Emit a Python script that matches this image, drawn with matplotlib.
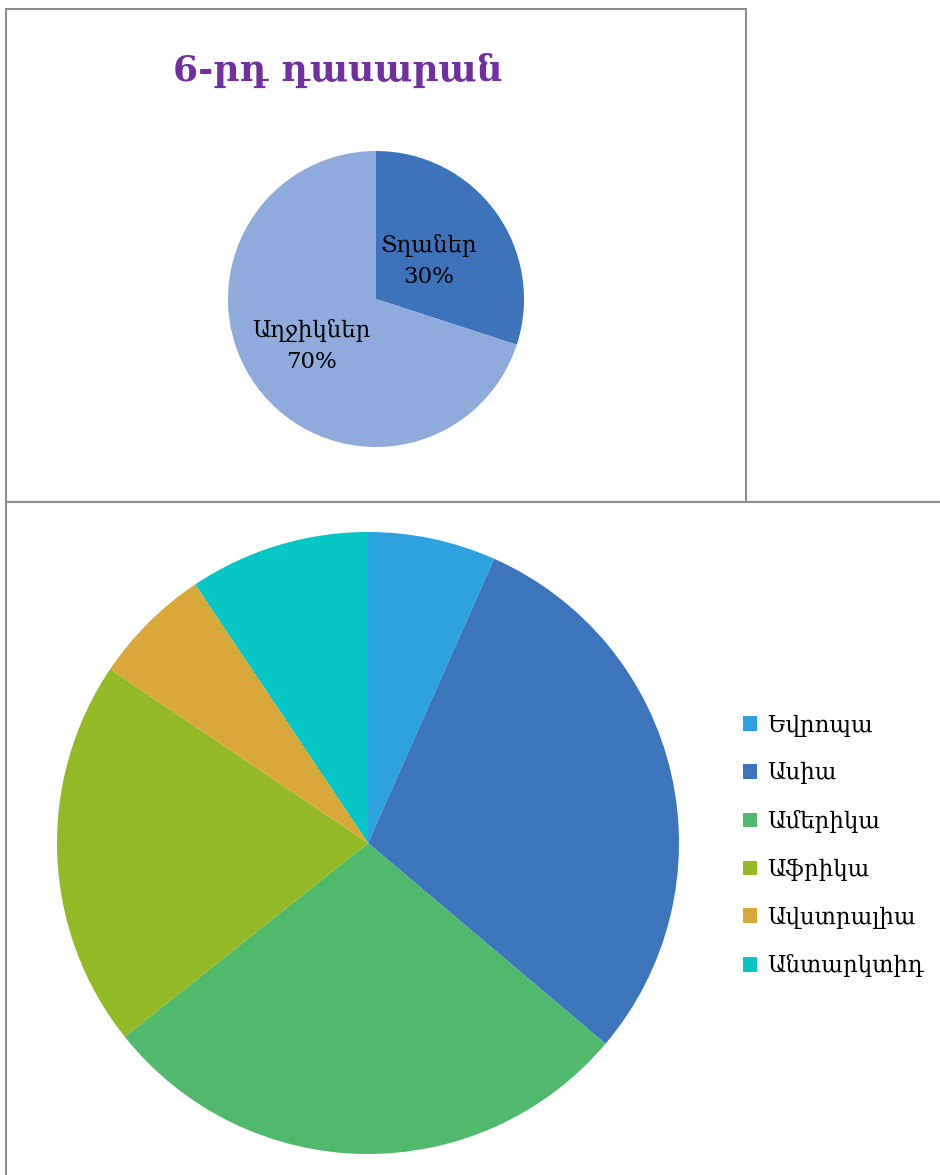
import matplotlib
matplotlib.use('Agg')
import matplotlib.pyplot as plt
from matplotlib.lines import Line2D
import numpy as np

plt.rcParams['font.family'] = ['DejaVu Serif', 'DejaVu Sans']

# Top chart data
title_top = '6-րդ դասարան'
class_labels = ['Տղաներ', 'Աղջիկներ']
class_values = [30, 70]
class_colors = ['#3C73BA', '#8FABDC']

# Bottom chart data
continents = ['Եվրոպա', 'Ասիա', 'Ամերիկա', 'Աֆրիկա', 'Ավստրալիա', 'Անտարկտիդ']
areas = [10.0, 44.4, 42.3, 30.3, 9.3, 14.1]
cont_colors = ['#2CA3DF', '#3C75BC', '#51B96B', '#93B925', '#D9A839', '#06C6C6']

W, H = 940, 1175
fig = plt.figure(figsize=(W / 100, H / 100), dpi=100)


def px_axes(cx, cy, r):
    # square axes (in pixels) centred on cx, cy
    return fig.add_axes([(cx - r) / W, (H - cy - r) / H, 2 * r / W, 2 * r / H])


# --- top pie ---
ax1 = px_axes(376, 299, 148)
wedges1, _ = ax1.pie(class_values, colors=class_colors, startangle=90,
                     counterclock=False, radius=1,
                     wedgeprops=dict(linewidth=0))
ax1.set_xlim(-1, 1)
ax1.set_ylim(-1, 1)
label_r = [0.44, 0.54]
for w, lab, val, r in zip(wedges1, class_labels, class_values, label_r):
    mid = np.deg2rad((w.theta1 + w.theta2) / 2)
    ax1.text(r * np.cos(mid), r * np.sin(mid), f'{lab}\n{val}%',
             ha='center', va='center', fontsize=16.5, color='black',
             linespacing=1.55)

fig.text(338 / W, 1 - 82 / H, title_top, ha='center', va='baseline',
         fontsize=26, fontweight='bold', color='#7030A0')

# --- bottom pie ---
ax2 = px_axes(368, 843, 311)
wedges2, _ = ax2.pie(areas, colors=cont_colors, startangle=90,
                     counterclock=False, radius=1,
                     wedgeprops=dict(linewidth=0))
ax2.set_xlim(-1, 1)
ax2.set_ylim(-1, 1)

fig.legend(wedges2, continents, loc='center left',
           bbox_to_anchor=(732 / W, 1 - 846 / H), frameon=False,
           fontsize=16.5, handlelength=0.6, handleheight=0.6,
           handletextpad=0.45, labelspacing=1.12, borderpad=0)

# --- frame lines ---
gray = '#8C8C8C'
lw = 1.5
def hline(y, x0, x1):
    fig.add_artist(Line2D([x0 / W, x1 / W], [1 - y / H, 1 - y / H], color=gray, lw=lw))
def vline(x, y0, y1):
    fig.add_artist(Line2D([x / W, x / W], [1 - y0 / H, 1 - y1 / H], color=gray, lw=lw))

hline(9, 6, 746)
hline(502, 6, W)
vline(6, 9, H)
vline(746, 9, 502)

fig.savefig('out.png', dpi=100, facecolor='white')
